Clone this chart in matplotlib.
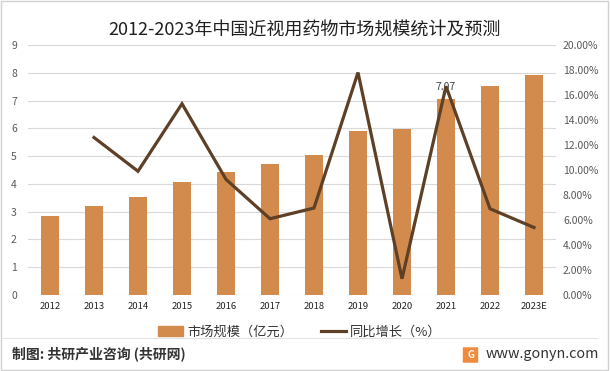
import matplotlib
matplotlib.use("Agg")
import matplotlib.pyplot as plt
from matplotlib.patches import FancyBboxPatch, Rectangle
from matplotlib.lines import Line2D
from matplotlib.ticker import FuncFormatter

plt.rcParams['font.family'] = ['Noto Sans CJK SC', 'DejaVu Sans']

# --- data ---
years = ['2012', '2013', '2014', '2015', '2016', '2017', '2018',
         '2019', '2020', '2021', '2022', '2023E']
market_size = [2.84, 3.20, 3.53, 4.06, 4.42, 4.71, 5.04,
               5.91, 5.99, 7.07, 7.53, 7.92]   # 亿元
growth = [None, 12.6, 9.9, 15.3, 9.25, 6.1, 6.96,
          17.8, 1.3, 16.7, 6.9, 5.4]          # %

bar_color = '#D38B4D'
line_color = '#5E4027'
tick_color = '#595959'

fig = plt.figure(figsize=(6.1, 3.71), dpi=100)
ax = fig.add_axes([28 / 610, 1 - 295 / 371, 528 / 610, 250 / 371])
ax2 = ax.twinx()

x = list(range(len(years)))
ax.bar(x, market_size, width=0.41, color=bar_color, zorder=2)
ax.set_xlim(-0.5, len(years) - 0.5)
ax.set_ylim(0, 9)
ax.set_yticks(range(0, 10))
ax.grid(axis='y', color='#D9D9D9', linewidth=0.8, zorder=0)
ax.set_axisbelow(True)

# data label on 2021 bar
i21 = years.index('2021')
ax.annotate(f'{market_size[i21]:.2f}', (i21, market_size[i21]),
            xytext=(0, 5), textcoords='offset points',
            ha='center', va='bottom', fontsize=7.5, color='#404040', zorder=5)

gx = [i for i, g in zip(x, growth) if g is not None]
gy = [g / 100 for g in growth if g is not None]
ax2.plot(gx, gy, color=line_color, linewidth=2.3, zorder=4,
         solid_joinstyle='miter')
ax2.set_ylim(0, 0.2)
ax2.set_yticks([i / 100 for i in range(0, 21, 2)])
ax2.yaxis.set_major_formatter(FuncFormatter(lambda v, p: f'{v * 100:.2f}%'))

for a in (ax, ax2):
    for s in a.spines.values():
        s.set_visible(False)
    a.tick_params(length=0, colors=tick_color, labelsize=7.5)
ax.set_xticks(x)
ax.set_xticklabels(years, fontsize=6.8, color='#222222')
ax.tick_params(axis='x', pad=5)
ax.tick_params(axis='y', pad=8)
ax2.tick_params(axis='y', pad=5)

# title
fig.text(0.5, 1 - 30 / 371, '2012-2023年中国近视用药物市场规模统计及预测',
         ha='center', va='center', fontsize=13, color='#202020')

# legend
handles = [Rectangle((0, 0), 1, 1, color=bar_color),
           Line2D([0], [0], color=line_color, linewidth=2.3)]
fig.legend(handles, ['市场规模（亿元）', '同比增长（%）'],
           loc='center', bbox_to_anchor=(300 / 610, 1 - 332 / 371), ncol=2,
           frameon=False, fontsize=9.5, handlelength=1.9, handletextpad=0.3,
           columnspacing=2.1, labelcolor='#333333')

# separator above footer
fig.add_artist(Line2D([3 / 610, 597 / 610], [1 - 338 / 371, 1 - 338 / 371],
                      transform=fig.transFigure, color='#E3E3E3', linewidth=0.8))

# footer
fig.text(12 / 610, 1 - 354 / 371, '制图: 共研产业咨询 (共研网)',
         ha='left', va='center', fontsize=10, color='#333333', fontweight='bold')
logo = FancyBboxPatch((464 / 610, 1 - 362 / 371), 13 / 610, 14 / 371,
                      boxstyle='round,pad=0.002', transform=fig.transFigure,
                      facecolor='#F08A3C', edgecolor='none')
fig.patches.append(logo)
fig.text(470.5 / 610, 1 - 355 / 371, 'G', ha='center', va='center',
         fontsize=7, color='white', fontweight='bold')
fig.text(486 / 610, 1 - 354 / 371, 'www.gonyn.com',
         ha='left', va='center', fontsize=10.3, color='#333333')

# outer border
fig.patches.append(Rectangle((0.002, 0.003), 0.995, 0.994, transform=fig.transFigure,
                             fill=False, edgecolor='#D0D0D0', linewidth=1))

fig.savefig('out.png', dpi=100)
